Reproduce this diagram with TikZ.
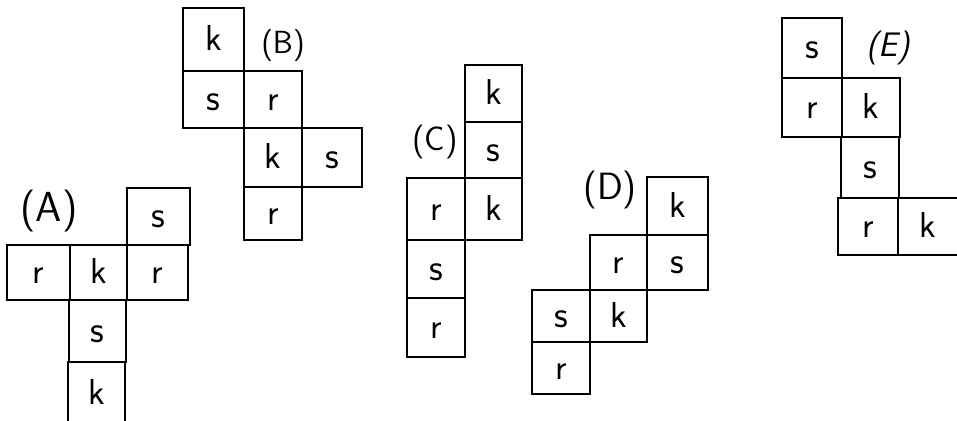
\documentclass[tikz,border=0pt]{standalone}
\usepackage{fontspec}
\begin{document}
\begin{tikzpicture}[x=1pt,y=-1pt,
  cell/.style={draw=black, line width=2pt, inner sep=0pt, text height=22pt, text depth=0pt, font=\fontsize{36}{36}\selectfont\sffamily},
  scell/.style={cell, font=\fontsize{38}{38}\selectfont\sffamily},
  netlabel/.style={inner sep=0pt, font=\fontsize{36}{36}\selectfont\sffamily}]
\useasboundingbox (0,0) rectangle (957,420);
\fill[white] (0,0) rectangle (957,420);
\clip (0,0) rectangle (957,420);
% (A)
\node[netlabel, font=\fontsize{42}{42}\selectfont\sffamily] (la) at (49,211) {(A)};
\node[scell, minimum width=63pt, minimum height=57pt] (as1) at (158.5,216.5) {s};
\node[cell, minimum width=63pt, minimum height=55pt] (ar1) at (38.5,272.5) {r};
\node[cell, minimum width=57pt, minimum height=55pt] (ak1) at (98.5,272.5) {k};
\node[cell, minimum width=61pt, minimum height=55pt] (ar2) at (157.5,272.5) {r};
\node[scell, minimum width=57pt, minimum height=62pt] (as2) at (97.5,331) {s};
\node[cell, minimum width=57pt, minimum height=62pt] (ak2) at (96.5,393) {k};
% (B)
\node[netlabel, font=\fontsize{32}{32}\selectfont\sffamily] (lb) at (283,46) {(B)};
\node[cell, minimum width=61pt, minimum height=63pt] (bk1) at (213.5,39.5) {k};
\node[scell, minimum width=61pt, minimum height=57pt] (bs1) at (213.5,99.5) {s};
\node[cell, minimum width=58pt, minimum height=57pt] (br1) at (273,99.5) {r};
\node[cell, minimum width=58pt, minimum height=59pt] (bk2) at (273,157.5) {k};
\node[scell, minimum width=60pt, minimum height=59pt] (bs2) at (332,157.5) {s};
\node[cell, minimum width=58pt, minimum height=53pt] (br2) at (273,213.5) {r};
% (C)
\node[netlabel, font=\fontsize{34}{34}\selectfont\sffamily] (lc) at (435,142) {(C)};
\node[cell, minimum width=57pt, minimum height=57pt] (ck1) at (493.5,93.5) {k};
\node[scell, minimum width=57pt, minimum height=56pt] (cs1) at (493.5,150) {s};
\node[cell, minimum width=58pt, minimum height=62pt] (cr1) at (436,209) {r};
\node[cell, minimum width=57pt, minimum height=62pt] (ck2) at (493.5,209) {k};
\node[scell, minimum width=58pt, minimum height=58pt] (cs2) at (436,269) {s};
\node[cell, minimum width=58pt, minimum height=59pt] (cr2) at (436,327.5) {r};
% (D)
\node[netlabel, font=\fontsize{38}{38}\selectfont\sffamily] (ld) at (610,190) {(D)};
\node[cell, minimum width=61pt, minimum height=58pt] (dk1) at (677.5,206) {k};
\node[cell, minimum width=57pt, minimum height=55pt] (dr1) at (618.5,262.5) {r};
\node[scell, minimum width=61pt, minimum height=55pt] (ds1) at (677.5,262.5) {s};
\node[scell, minimum width=58pt, minimum height=52pt] (ds2) at (561,316) {s};
\node[cell, minimum width=57pt, minimum height=52pt] (dk2) at (618.5,316) {k};
\node[cell, minimum width=58pt, minimum height=52pt] (dr2) at (561,368) {r};
% (E)
\node[netlabel, font=\fontsize{34}{34}\selectfont\sffamily\itshape] (le) at (888,48) {(E)};
\node[scell, minimum width=60pt, minimum height=60pt] (es1) at (812,48) {s};
\node[cell, minimum width=60pt, minimum height=59pt] (er1) at (812,107.5) {r};
\node[cell, minimum width=58pt, minimum height=59pt] (ek1) at (871,107.5) {k};
\node[scell, minimum width=58pt, minimum height=61pt] (es2) at (870,167.5) {s};
\node[cell, minimum width=60pt, minimum height=57pt] (er2) at (868,226.5) {r};
\node[cell, minimum width=60pt, minimum height=57pt] (ek2) at (928,226.5) {k};
\end{tikzpicture}
\end{document}
